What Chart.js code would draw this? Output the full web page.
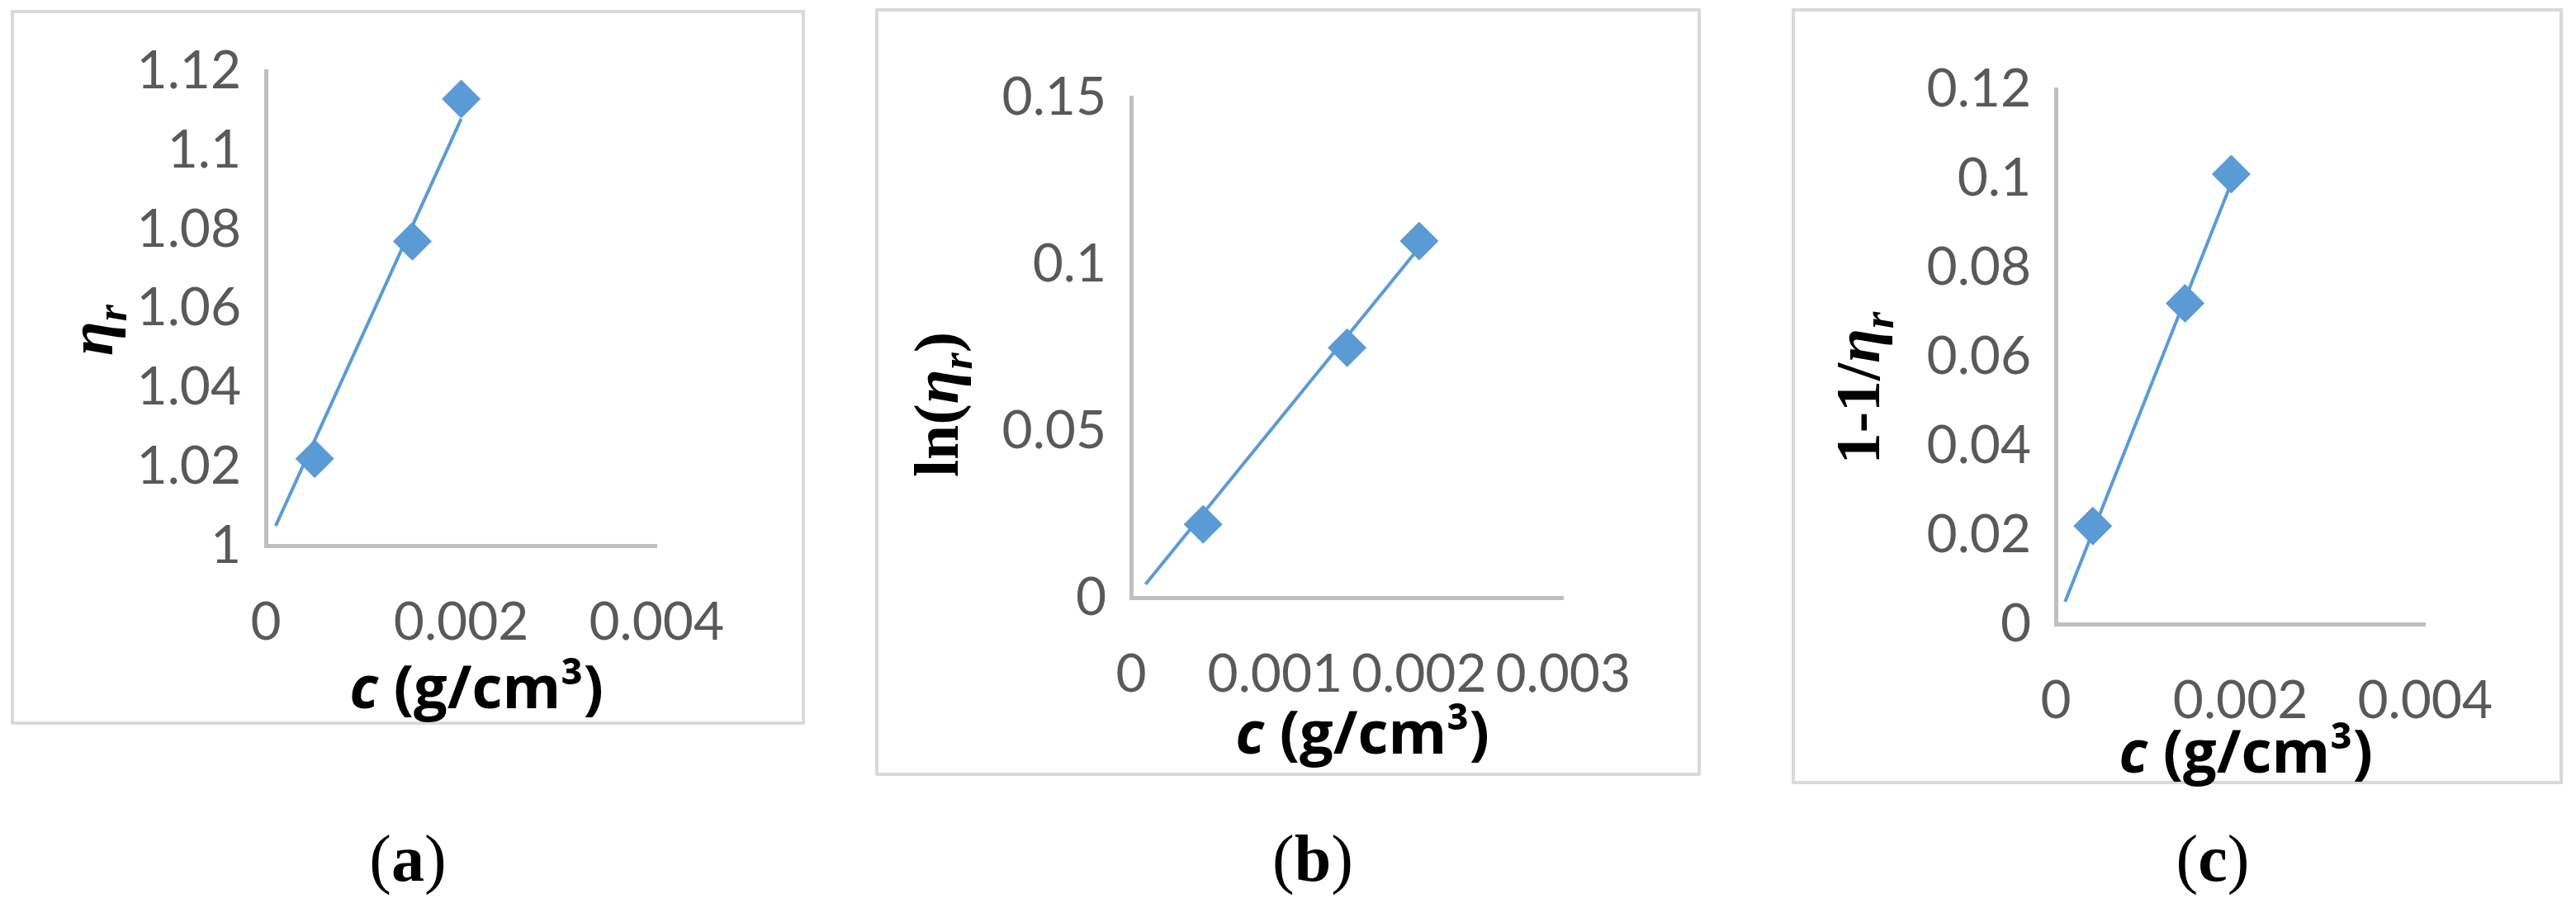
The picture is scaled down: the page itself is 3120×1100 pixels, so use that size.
<!DOCTYPE html>
<html><head><meta charset="utf-8">
<script src="https://cdn.jsdelivr.net/npm/chart.js@4"></script>
<style>
body{margin:0;width:3120px;height:1100px;background:#fff;position:relative;overflow:hidden;font-family:Lato,sans-serif}
.box{position:absolute;border:4px solid #d9d9d9;box-sizing:border-box}
.t{position:absolute;white-space:nowrap;transform:translate(-50%,-50%)}
.xt{font-weight:bold;font-size:72px;color:#000;font-family:"Open Sans",sans-serif}
.yt{font-weight:bold;font-size:76px;color:#000;font-family:"Liberation Serif",serif}
.lab{font-size:80px;font-family:"Liberation Serif",serif}
canvas{position:absolute}
</style></head><body>
<div class="box" style="left:13px;top:12px;width:962px;height:866px"></div>
<div class="box" style="left:1060px;top:10px;width:1000px;height:930px"></div>
<div class="box" style="left:2170px;top:10px;width:934px;height:940px"></div>
<div class="t xt" style="left:577px;top:830px"><i>c</i> (g/cm³)</div>
<div class="t xt" style="left:1650px;top:885px"><i>c</i> (g/cm³)</div>
<div class="t xt" style="left:2720px;top:908px"><i>c</i> (g/cm³)</div>
<div class="t yt" style="left:116px;top:400px;transform:translate(-50%,-50%) rotate(-90deg)"><i>η<sub style="font-size:52px">r</sub></i></div>
<div class="t yt" style="left:1140px;top:490px;transform:translate(-50%,-50%) rotate(-90deg)">ln(<i>η<sub style="font-size:52px">r</sub></i>)</div>
<div class="t yt" style="left:2256px;top:470px;transform:translate(-50%,-50%) rotate(-90deg)">1-1/<i>η<sub style="font-size:52px">r</sub></i></div>
<div class="t lab" style="left:494px;top:1040px">(<b>a</b>)</div>
<div class="t lab" style="left:1590px;top:1040px">(<b>b</b>)</div>
<div class="t lab" style="left:2680px;top:1040px">(<b>c</b>)</div>
<canvas id="ca"></canvas><canvas id="cb"></canvas><canvas id="cc"></canvas>
<script>
const concA=[0.0005,0.0015,0.002], etaR=[1.022,1.077,1.113];
const trendA_x=[0.0001,0.002], trendA_y=[1.005,1.108];
const concB=[0.0005,0.0015,0.002], lnEta=[0.022,0.075,0.107];
const trendB_x=[0.0001,0.002], trendB_y=[0.004,0.105];
const concC=[0.0004,0.0014,0.0019], invEta=[0.022,0.072,0.101];
const trendC_x=[0.0001,0.0019], trendC_y=[0.005,0.099];
const axA={xmax:0.004,xstep:0.002,ymin:1,ymax:1.12,ystep:0.02};
const axB={xmax:0.003,xstep:0.001,ymin:0,ymax:0.15,ystep:0.05};
const axC={xmax:0.004,xstep:0.002,ymin:0,ymax:0.12,ystep:0.02};
const BL='#5b9bd5';
function mk(id,area,ax,cx,cy,tx,ty){
  const YW=200,XH=130,PT=40,PR=100;
  const cv=document.getElementById(id);
  const W=area.r-area.l+YW+PR,H=area.b-area.t+PT+XH;
  cv.style.left=(area.l-YW)+'px';cv.style.top=(area.t-PT)+'px';
  cv.style.width=W+'px';cv.style.height=H+'px';cv.width=W;cv.height=H;
  const pts=(xs,ys)=>xs.map((x,i)=>({x,y:ys[i]}));
  const tickFont={family:'Lato',size:64};
  new Chart(cv,{type:'scatter',data:{datasets:[
    {data:pts(tx,ty),showLine:true,borderColor:BL,borderWidth:4,pointRadius:0},
    {data:pts(cx,cy),pointStyle:'rectRot',pointRadius:23,backgroundColor:BL,borderColor:BL}
  ]},options:{responsive:false,animation:false,devicePixelRatio:1,
    layout:{padding:{top:PT,right:PR,left:0,bottom:0}},
    plugins:{legend:{display:false},tooltip:{enabled:false}},
    scales:{
      x:{type:'linear',min:0,max:ax.xmax,afterFit:s=>{s.height=XH},
        grid:{display:false,drawTicks:false},border:{color:'#bfbfbf',width:5},
        ticks:{stepSize:ax.xstep,color:'#595959',font:tickFont,padding:55,maxRotation:0,callback:v=>+v.toFixed(4)+''}},
      y:{min:ax.ymin,max:ax.ymax,afterFit:s=>{s.width=YW},
        grid:{display:false,drawTicks:false},border:{color:'#bfbfbf',width:5},
        ticks:{stepSize:ax.ystep,color:'#595959',font:tickFont,padding:30,callback:v=>+v.toFixed(2)+''}}
    }}});
}
mk('ca',{l:322,r:832,t:58,b:661},axA,concA,etaR,trendA_x,trendA_y);
mk('cb',{l:1370,r:1930,t:90,b:724},axB,concB,lnEta,trendB_x,trendB_y);
mk('cc',{l:2490,r:2974,t:80,b:756},axC,concC,invEta,trendC_x,trendC_y);
</script></body></html>
